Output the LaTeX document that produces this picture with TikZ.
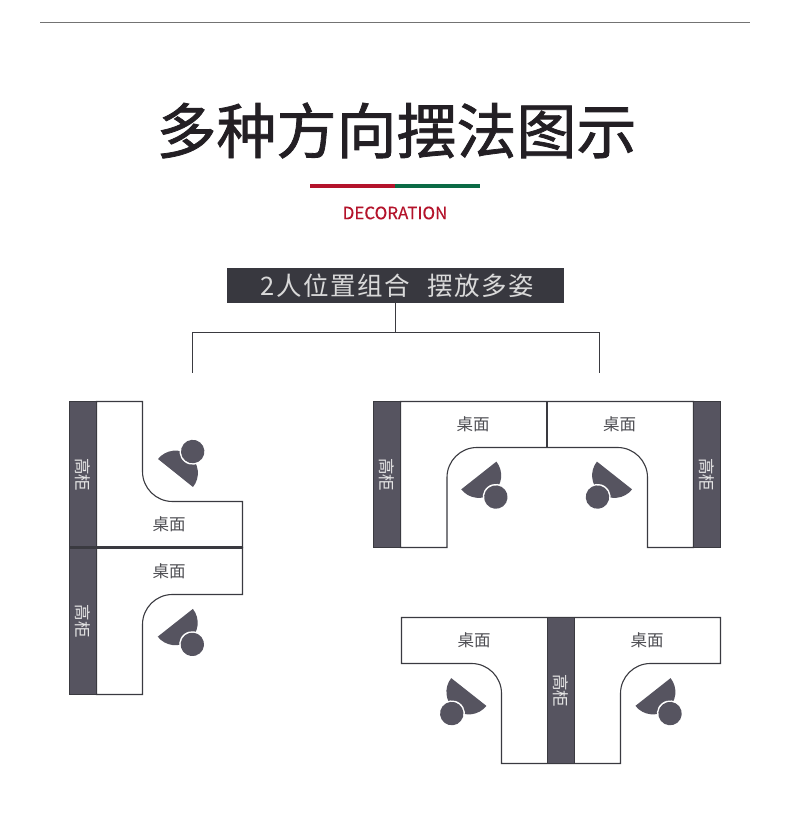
\documentclass[tikz,border=0pt]{standalone}
\usepackage{fontspec}
\setmainfont{Noto Sans CJK SC}
\newfontfamily\cjkbold[FakeBold=1.3]{Noto Sans CJK SC}
\newfontfamily\decofont[FakeBold=0.25]{Noto Sans CJK SC}
\newfontfamily\barfont[LetterSpace=6]{Noto Sans CJK SC}
\definecolor{ink}{HTML}{3A3A40}
\definecolor{cab}{HTML}{565460}
\definecolor{headbar}{HTML}{38383F}
\definecolor{titleink}{HTML}{231F24}
\definecolor{redc}{HTML}{B4132B}
\definecolor{greenc}{HTML}{0B6B45}
\tikzset{
  desk/.style={draw=ink,line width=1.1pt,fill=white},
  joint/.style={draw=ink,line width=2.2pt},
  cabinet/.style={fill=cab,draw=ink,line width=0.6pt},
  wire/.style={draw=ink,line width=1pt},
  desklabel/.style={font=\fontsize{16.5}{16.5}\selectfont,text=ink!90,inner sep=0pt},
  cablabel/.style={font=\fontsize{16.5}{16.5}\selectfont,text=white!90!black,inner sep=0pt,rotate=-90},
}
\newcommand{\seat}[3]{%
  \begin{scope}[shift={(#1,#2)},rotate=#3]
    \fill[cab] (-22.4,0) arc[start angle=180,end angle=0,radius=22.4] -- cycle;
    \fill[white] (0,27.5) circle[radius=13.2];
    \fill[cab] (0,27.5) circle[radius=11.7];
  \end{scope}}
\begin{document}
\begin{tikzpicture}[x=1pt,y=1pt,shift={(0,829)}]
\useasboundingbox (0,-829) rectangle (790,0);
\fill[white] (0,-829) rectangle (790,0);
% header
\draw[draw=black!55,line width=1.1pt] (40,-22.5) -- (750,-22.5);
\node[inner sep=0pt,text=titleink,font=\cjkbold\fontsize{60}{60}\selectfont] (title) at (396.5,-130.5) {多种方向摆法图示};
\fill[redc] (310,-184) rectangle (395,-188);
\fill[greenc] (395,-184) rectangle (480,-188);
\node[inner sep=0pt,text=redc,font=\decofont\fontsize{17}{17}\selectfont] (deco) at (395,-213) {DECORATION};
\node[fill=headbar,minimum width=337pt,minimum height=35pt,inner sep=0pt,text=white!85!black,font=\barfont\fontsize{25.5}{25.5}\selectfont] (bar) at (395.5,-285.5) {\mbox{}\hspace{3.5pt}2人位置组合\hspace{0.7em}摆放多姿};
% tree
\coordinate (fork) at (395.5,-332.5);
\coordinate (leftend) at (192.5,-373);
\coordinate (rightend) at (599.5,-373);
\draw[wire] (bar.south) -- (fork);
\draw[wire] (leftend) |- (fork) -| (rightend);
% layout 1
\draw[desk] (96.5,-401.5) -- (142.5,-401.5) -- (142.5,-471.5) arc[start angle=180,end angle=270,radius=30] -- (242.5,-501.5) -- (242.5,-547.5) -- (96.5,-547.5) -- cycle;
\draw[desk] (96.5,-547.5) -- (242.5,-547.5) -- (242.5,-594.5) -- (172.5,-594.5) arc[start angle=90,end angle=180,radius=30] -- (142.5,-694.5) -- (96.5,-694.5) -- cycle;
\draw[cabinet] (69.5,-401.5) rectangle (96.5,-547.5);
\draw[cabinet] (69.5,-547.5) rectangle (96.5,-694.5);
\draw[joint] (69,-547.5) -- (242.5,-547.5);
\node[cablabel] (c1) at (83,-475) {高柜};
\node[cablabel] (c2) at (83,-621.5) {高柜};
\node[desklabel] (d1) at (169,-524) {桌面};
\node[desklabel] (d2) at (169,-571) {桌面};
\seat{175.5}{-473}{-38.7}
\seat{175.3}{-622.8}{-141.7}
% layout 2
\draw[desk] (400.5,-401.5) -- (693.5,-401.5) -- (693.5,-547.5) -- (647.5,-547.5) -- (647.5,-477.5) arc[start angle=0,end angle=90,radius=30] -- (477,-447.5) arc[start angle=90,end angle=180,radius=30] -- (447,-547.5) -- (400.5,-547.5) -- cycle;
\draw[cabinet] (373.5,-401.5) rectangle (400.5,-547.5);
\draw[cabinet] (693.5,-401.5) rectangle (720.5,-547.5);
\draw[joint] (547,-401.5) -- (547,-447.5);
\node[cablabel] (c3) at (387,-475) {高柜};
\node[cablabel] (c4) at (707,-475) {高柜};
\node[desklabel] (d3) at (473,-424) {桌面};
\node[desklabel] (d4) at (619.5,-424) {桌面};
\seat{478.8}{-475.5}{-141.7}
\seat{614.5}{-475.5}{141.7}
% layout 3
\draw[desk] (401.5,-617.5) -- (720.5,-617.5) -- (720.5,-663.5) -- (650.5,-663.5) arc[start angle=90,end angle=180,radius=30] -- (620.5,-763.5) -- (501.5,-763.5) -- (501.5,-693.5) arc[start angle=0,end angle=90,radius=30] -- (401.5,-663.5) -- cycle;
\draw[cabinet] (547.5,-617.5) rectangle (574.5,-763.5);
\node[cablabel] (c5) at (561,-691) {高柜};
\node[desklabel] (d5) at (474,-640) {桌面};
\node[desklabel] (d6) at (647,-640) {桌面};
\seat{468.8}{-692}{141.7}
\seat{653}{-692}{-141.7}
\end{tikzpicture}
\end{document}
